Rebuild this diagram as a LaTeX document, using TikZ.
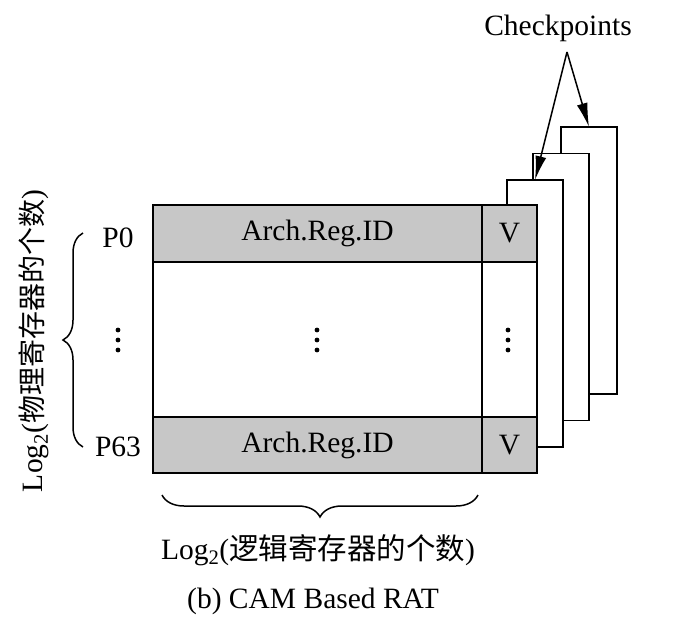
\documentclass[tikz,border=0pt]{standalone}
\usepackage{fontspec}
\setmainfont{Liberation Serif}
\newfontfamily\cjk{Noto Sans CJK SC}
\usetikzlibrary{arrows.meta,decorations.pathreplacing}
\begin{document}
\begin{tikzpicture}[x=1pt,y=-1pt,
  every node/.style={font=\fontsize{29.5}{33}\selectfont},
  cell/.style={draw,line width=1.6pt,inner sep=0pt,outer sep=0pt,minimum width=#1},
  shaded/.style={fill=black!22},
  cpbox/.style={draw,line width=1.6pt,fill=white,inner sep=0pt,outer sep=0pt,minimum width=56pt,minimum height=267pt},
  arr/.style={line width=1.5pt,-{Latex[length=24pt,width=11pt]}},
  brc/.style={line width=1.5pt,decorate,decoration={brace,amplitude=#1}},
  dot/.style={fill=black}
]
\useasboundingbox (0,0) rectangle (700,640);
% checkpoint copies (back to front)
\node[cpbox] (cp3) at (589,260.5) {};
\node[cpbox] (cp2) at (561,287) {};
\node[cpbox] (cp1) at (535,313.5) {};
% main table
\node[cell=329pt,minimum height=57pt,shaded] (r0) at (317.5,233.5) {Arch.Reg.ID};
\node[cell=55pt,minimum height=57pt,shaded] (v0) at (509.5,233.5) {V};
\node[cell=329pt,minimum height=155pt,fill=white] (rm) at (317.5,339.5) {};
\node[cell=55pt,minimum height=155pt,fill=white] (vm) at (509.5,339.5) {};
\node[cell=329pt,minimum height=56pt,shaded] (r1) at (317.5,445) {Arch.Reg.ID};
\node[cell=55pt,minimum height=56pt,shaded] (v1) at (509.5,445) {V};
% vertical ellipses
\foreach \x in {118,317,508}{
  \foreach \y in {330,340,350}{
    \fill[dot] (\x,\y) circle (2.4pt);
  }
}
% row labels
\node (p0) at (118,238) {P0};
\node (p63) at (118,447) {P63};
% braces
\draw[brc=20pt] (83,447) -- (83,233);
\draw[brc=22pt] (478,495) -- (162,495);
\node[rotate=90] (ylab) at (34,341) {Log\textsubscript{2}({\cjk\fontsize{28}{32}\selectfont 物理寄存器的个数})};
\node (xlab) at (318,550) {Log\textsubscript{2}({\cjk\fontsize{29.5}{33}\selectfont 逻辑寄存器的个数})};
% checkpoints
\node (ck) at (558,28) {Checkpoints};
\coordinate (apex) at (567,52);
\draw[arr] (apex) -- (cp1.north);
\draw[arr] (apex) -- (cp3.north);
% caption
\node (cap) at (313,601) {(b) CAM Based RAT};
\end{tikzpicture}
\end{document}
